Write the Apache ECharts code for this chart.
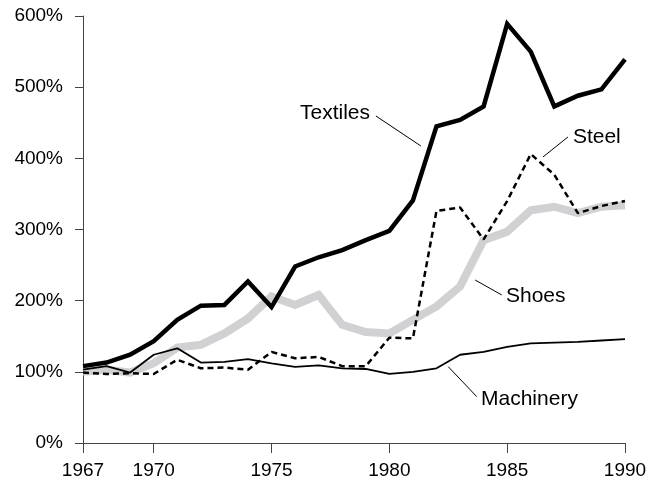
<!DOCTYPE html>
<html>
<head>
<meta charset="utf-8">
<script src="https://cdn.jsdelivr.net/npm/echarts@6/dist/echarts.min.js"></script>
<style>html,body{margin:0;padding:0;background:#fff;}#c{width:650px;height:484px;}</style>
</head>
<body>
<div id="c"></div>
<script>
var years = [1967,1968,1969,1970,1971,1972,1973,1974,1975,1976,1977,1978,1979,1980,1981,1982,1983,1984,1985,1986,1987,1988,1989,1990];
var xTicks = [1967,1970,1975,1980,1985,1990];
var textiles  = [108,113,124,143,173,193,194,227,191,248,261,271,285,298,341,445,454,473,589,550,473,488,497,539];
var shoes     = [100,103,99,112,134,138,154,175,206,194,208,166,156,154,173,192,220,285,297,327,332,323,332,334];
var steel     = [99,97,98,97,117,105,106,103,128,119,121,108,108,148,147,326,331,286,340,406,377,323,333,340];
var machinery = [103,108,99,124,133,113,114,118,112,107,109,105,104,97,100,105,124,128,135,140,141,142,144,146];

// annotation positions in data units: [year, percent]
var textilesLeader = [[1979.43,459.5],[1981.34,417.3]];
var textilesLabel  = [1979.18,463.7];
var steelLeader    = [[1987.58,430],[1986.52,401.9]];
var steelLabel     = [1987.79,430];
var shoesLeader    = [[1983.64,229],[1984.77,208]];
var shoesLabel     = [1984.95,206.6];
var machLeader     = [[1982.50,107.2],[1983.71,65.1]];
var machLabel      = [1983.89,61.8];

function pairs(v){ return years.map(function(y,i){ return [y, v[i]]; }); }
var FONT = 'Liberation Sans';
function leader(p){
  return { silent:true, symbol:'none', label:{show:false},
    lineStyle:{color:'#000', width:1, type:'solid'},
    data:[[{coord:p[0]},{coord:p[1]}]] };
}
function label(p, text, pos){
  return { silent:true, symbol:'circle', symbolSize:0,
    data:[{coord:p, value:text}],
    label:{show:true, position:pos, distance:0, formatter:text,
      color:'#000', fontFamily:FONT, fontSize:21} };
}

var chart = echarts.init(document.getElementById('c'), null, {renderer:'canvas'});
chart.setOption({
  animation:false,
  backgroundColor:'#fff',
  grid:{left:83, right:25, top:16, bottom:41, containLabel:false},
  xAxis:{type:'value', min:1967, max:1990,
    axisLine:{show:true, lineStyle:{color:'#444', width:1}},
    axisTick:{show:true, length:10, lineStyle:{color:'#444'}, customValues:xTicks},
    axisLabel:{show:true, customValues:xTicks, margin:18, color:'#000', fontFamily:FONT, fontSize:19,
      formatter:function(v){ return String(v); }},
    splitLine:{show:false}},
  yAxis:{type:'value', min:0, max:600, interval:100,
    axisLine:{show:true, lineStyle:{color:'#444', width:1}},
    axisTick:{show:true, length:8, lineStyle:{color:'#444'}},
    axisLabel:{formatter:'{value}%', margin:20, color:'#000', fontFamily:FONT, fontSize:19},
    splitLine:{show:false}},
  series:[
    {name:'Shoes', type:'line', data:pairs(shoes), symbol:'none', z:1,
      lineStyle:{color:'#d1d1d3', width:8, join:'miter'},
      markLine:leader(shoesLeader), markPoint:label(shoesLabel,'Shoes','right')},
    {name:'Machinery', type:'line', data:pairs(machinery), symbol:'none', z:2,
      lineStyle:{color:'#000', width:1.8},
      markLine:leader(machLeader), markPoint:label(machLabel,'Machinery','right')},
    {name:'Steel', type:'line', data:pairs(steel), symbol:'none', z:3,
      lineStyle:{color:'#000', width:2.5, type:[6,4]},
      markLine:leader(steelLeader), markPoint:label(steelLabel,'Steel','right')},
    {name:'Textiles', type:'line', data:pairs(textiles), symbol:'none', z:4,
      lineStyle:{color:'#000', width:4.5, join:'miter'},
      markLine:leader(textilesLeader), markPoint:label(textilesLabel,'Textiles','left')}
  ]
});
</script>
</body>
</html>
